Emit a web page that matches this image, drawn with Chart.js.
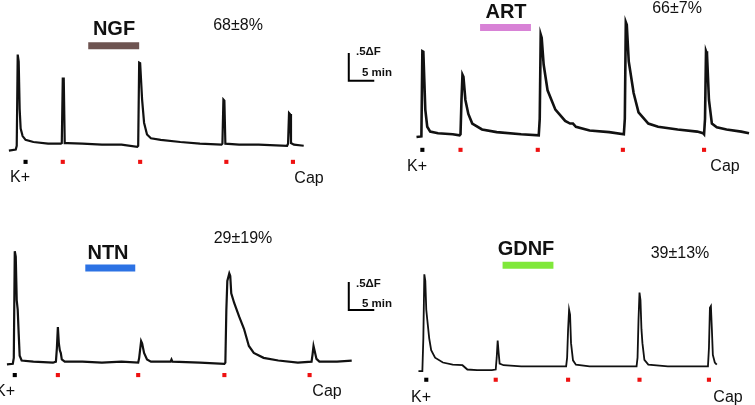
<!DOCTYPE html>
<html>
<head>
<meta charset="utf-8">
<script src="https://cdn.jsdelivr.net/npm/chart.js@4.4.1/dist/chart.umd.min.js"></script>
<style>
  html, body { margin: 0; padding: 0; background: #fff; }
  #fig { position: relative; width: 755px; height: 405px; overflow: hidden;
         font-family: "Liberation Sans", Arial, sans-serif; color: #111; }
  #fig canvas { position: absolute; }
  .lbl { position: absolute; transform: translate(-50%, -50%); white-space: nowrap; line-height: 1; }
  .title { font-weight: bold; font-size: 20px; }
  .pct { font-size: 16px; }
  .stim { font-size: 16px; }
  .sb { font-weight: bold; font-size: 11.5px; transform: translate(0, -50%); }
</style>
</head>
<body>
<div id="fig">
  <canvas id="cNGF"></canvas>
  <canvas id="cART"></canvas>
  <canvas id="cNTN"></canvas>
  <canvas id="cGDNF"></canvas>
</div>
<script>
// ---- dados (minutos, ΔF) ----
const ngfT = [0,1.4,1.6,1.8,2.0,2.2,2.4,2.8,3.4,5,8,10.6,10.8,11,11.2,11.4,12,15,19,23,26.2,26.4,26.6,26.8,27.2,27.6,28.2,29,31,35,39,43.4,43.6,43.8,44,44.2,47,51,56.8,57,57.2,57.4,57.6,58.2,60.2];
const ngfF = [-0.09,-0.07,0,1.70,1.57,0.68,0.32,0.18,0.11,0.07,0.04,0.04,0.05,1.25,1.25,0.05,0.05,0.04,0.02,0.02,-0.02,0,1.55,1.54,0.86,0.43,0.21,0.14,0.11,0.07,0.04,0.02,0.04,0.86,0.84,0.04,0.02,0.02,0,0.04,0.61,0.59,0.05,0.02,0];

const artT = [0,1.0,1.2,1.4,1.6,1.8,2.2,2.8,4.4,7.4,8.8,9.0,9.2,9.4,9.6,10,10.6,11.4,13.4,16.4,21.4,25,25.2,25.4,25.6,26,26.8,28.4,30.4,31.4,32,32.6,35.4,39.4,42.4,42.6,42.8,43,43.4,44.4,45.4,47.4,49.4,53.4,57.4,58.6,58.8,59,59.2,59.4,59.8,60.4,61.4,63.4,66.4,68];
const artF = [-0.05,-0.04,1.55,1.54,1.0,0.46,0.14,0.05,0.02,0,-0.02,0,0.64,1.11,1.07,0.64,0.38,0.2,0.09,0.04,0,-0.02,0.29,1.86,1.80,1.3,0.82,0.46,0.25,0.2,0.2,0.14,0.07,0.04,0,0.29,2.09,2.04,1.36,0.77,0.41,0.2,0.14,0.09,0.05,0.02,0,0.29,1.55,1.5,0.64,0.2,0.13,0.09,0.05,0.02];

const ntnT = [0,1.2,1.4,1.6,1.8,2.0,2.2,2.4,2.6,3.0,5.4,9.4,10,10.2,10.4,10.6,10.8,11,11.2,11.8,15.4,19.4,23.4,26.8,27,27.4,27.6,28,28.6,29.4,33.4,33.6,33.8,39.4,44.4,44.6,44.8,45,45.4,45.6,45.8,46.4,47.4,48.4,49.4,50.4,52.4,55.4,59.4,62.2,62.4,62.6,62.8,63.2,63.8,67.4,70.4];
const ntnF = [-0.05,-0.04,0.07,2.05,1.95,1.14,0.96,0.52,0.11,0.02,0,-0.02,0,0.25,0.64,0.34,0.21,0.16,0.04,0,0,-0.02,0,-0.02,0.07,0.38,0.34,0.16,0.04,0,0,0.04,0,-0.02,-0.04,-0.02,0.96,1.5,1.64,1.59,1.27,1.09,0.84,0.61,0.29,0.16,0.07,0.02,-0.02,0,0.13,0.29,0.21,0.05,0,0,0.02];

const gdnfT = [0,0.8,1.0,1.2,1.4,1.6,1.8,2.2,2.6,3.4,5,7,9,10,12,15,15.8,16,16.2,16.4,16.6,17.4,21,25,30.2,30.4,30.6,30.8,31,31.2,31.6,32.2,35,39,44.6,44.8,45,45.2,45.4,45.6,45.8,46.2,47,51,57,59.2,59.4,59.6,59.8,60,60.2,60.6,61];
const gdnfF = [-0.07,-0.07,0.54,1.73,1.61,1.07,0.89,0.54,0.32,0.18,0.09,0.05,0.04,-0.04,-0.05,-0.05,-0.04,0.18,0.5,0.27,0.07,0.04,0.02,0.02,0.02,0.18,0.71,1.07,0.98,0.45,0.13,0.05,0.02,0.02,0.02,0.18,0.89,1.39,1.25,0.71,0.45,0.14,0.05,0.02,0.02,0.02,0.36,1.11,1.14,0.71,0.23,0.09,0.05];

// estímulos: primeiro = K+, demais = capsaicina
const ngfStim = [3.4, 11, 26.8, 44.4, 58];
const artStim = [1.2, 9, 24.8, 42.2, 58.8];
const ntnStim = [1.6, 10.4, 26.8, 44.4, 61.8];
const gdnfStim = [1.6, 15.8, 30.6, 45.2, 59.4];

// período de aplicação do fator (min)
const ngfBar = [16.2, 26.6];
const artBar = [13, 23.4];
const ntnBar = [16, 26.2];
const gdnfBar = [17.2, 27.6];

const factorNames = ['NGF', 'ART', 'NTN', 'GDNF'];
const responses = ['68±8%', '66±7%', '29±19%', '39±13%'];

// ---- painéis (posição do canvas e faixas das escalas) ----
const panels = [
  { id: 'cNGF', name: factorNames[0], t: ngfT, f: ngfF, stim: ngfStim, bar: ngfBar,
    barColor: '#6e5451', barLevel: 1.866, stimLevel: -0.3, lw: 2.2,
    box: [0, 0, 390, 190], x: [-1, 77], y: [-0.75, 2.643],
    scaleBar: { t: 69.4, v: 1.21 } },
  { id: 'cART', name: factorNames[1], t: artT, f: artF, stim: artStim, bar: artBar,
    barColor: '#d882d6', barLevel: 1.99, stimLevel: -0.29, lw: 2.6,
    box: [390, 0, 365, 190], x: [-4.6, 68.4], y: [-0.964, 2.429] },
  { id: 'cNTN', name: factorNames[2], t: ntnT, f: ntnF, stim: ntnStim, bar: ntnBar,
    barColor: '#2c72e4', barLevel: 1.74, stimLevel: -0.25, lw: 2.2,
    box: [0, 200, 390, 205], x: [-0.6, 77.4], y: [-0.732, 2.929],
    scaleBar: { t: 69.8, v: 0.96 } },
  { id: 'cGDNF', name: factorNames[3], t: gdnfT, f: gdnfF, stim: gdnfStim, bar: gdnfBar,
    barColor: '#80e83a', barLevel: 1.90, stimLevel: -0.23, lw: 1.8,
    box: [390, 200, 365, 205], x: [-5, 68], y: [-0.625, 3.036] }
];

function buildPanel(p) {
  const canvas = document.getElementById(p.id);
  canvas.style.left = p.box[0] + 'px';
  canvas.style.top = p.box[1] + 'px';
  canvas.style.width = p.box[2] + 'px';
  canvas.style.height = p.box[3] + 'px';
  canvas.width = p.box[2];
  canvas.height = p.box[3];

  const datasets = [
    { // traço de fluorescência
      data: p.t.map((t, i) => ({ x: t, y: p.f[i] })),
      borderColor: '#111', borderWidth: p.lw, pointRadius: 0, tension: 0
    },
    { // barra do fator
      data: p.bar.map(t => ({ x: t, y: p.barLevel })),
      borderColor: p.barColor, borderWidth: 7, borderCapStyle: 'butt', pointRadius: 0
    },
    { // marcadores de estímulo
      type: 'scatter',
      data: p.stim.map(t => ({ x: t, y: p.stimLevel })),
      pointStyle: 'rect', pointRadius: 2.9, pointBorderWidth: 0,
      pointBackgroundColor: p.stim.map((t, i) => i === 0 ? '#000' : '#ee1111')
    }
  ];
  if (p.scaleBar) {
    const s = p.scaleBar;
    datasets.push({ // barra de escala .5ΔF / 5 min
      data: [{ x: s.t, y: s.v + 0.5 }, { x: s.t, y: s.v }, { x: s.t + 5, y: s.v }],
      borderColor: '#000', borderWidth: 2, pointRadius: 0, borderCapStyle: 'square'
    });
  }

  new Chart(canvas.getContext('2d'), {
    type: 'line',
    data: { datasets: datasets },
    options: {
      responsive: false,
      animation: false,
      layout: { padding: 0 },
      plugins: { legend: { display: false }, tooltip: { enabled: false } },
      scales: {
        x: { type: 'linear', min: p.x[0], max: p.x[1], display: false },
        y: { type: 'linear', min: p.y[0], max: p.y[1], display: false }
      }
    }
  });
}

panels.forEach(buildPanel);

// ---- textos ----
const fig = document.getElementById('fig');
function label(text, x, y, cls) {
  const d = document.createElement('div');
  d.className = 'lbl ' + cls;
  d.textContent = text;
  d.style.left = x + 'px';
  d.style.top = y + 'px';
  fig.appendChild(d);
}

label(factorNames[0], 114, 28, 'title');
label(factorNames[1], 506, 11, 'title');
label(factorNames[2], 108, 252, 'title');
label(factorNames[3], 526, 248, 'title');

label(responses[0], 238, 25, 'pct');
label(responses[1], 677, 8, 'pct');
label(responses[2], 243, 238, 'pct');
label(responses[3], 680, 253, 'pct');

label('K+', 20, 177, 'stim');   label('Cap', 309, 178, 'stim');
label('K+', 417, 166, 'stim');  label('Cap', 725, 166, 'stim');
label('K+', 5, 391, 'stim');    label('Cap', 327, 391, 'stim');
label('K+', 421, 397, 'stim');  label('Cap', 728, 397, 'stim');

label('.5ΔF', 356, 52, 'sb');   label('5 min', 362, 73, 'sb');
label('.5ΔF', 356, 284, 'sb');  label('5 min', 362, 304, 'sb');
</script>
</body>
</html>
